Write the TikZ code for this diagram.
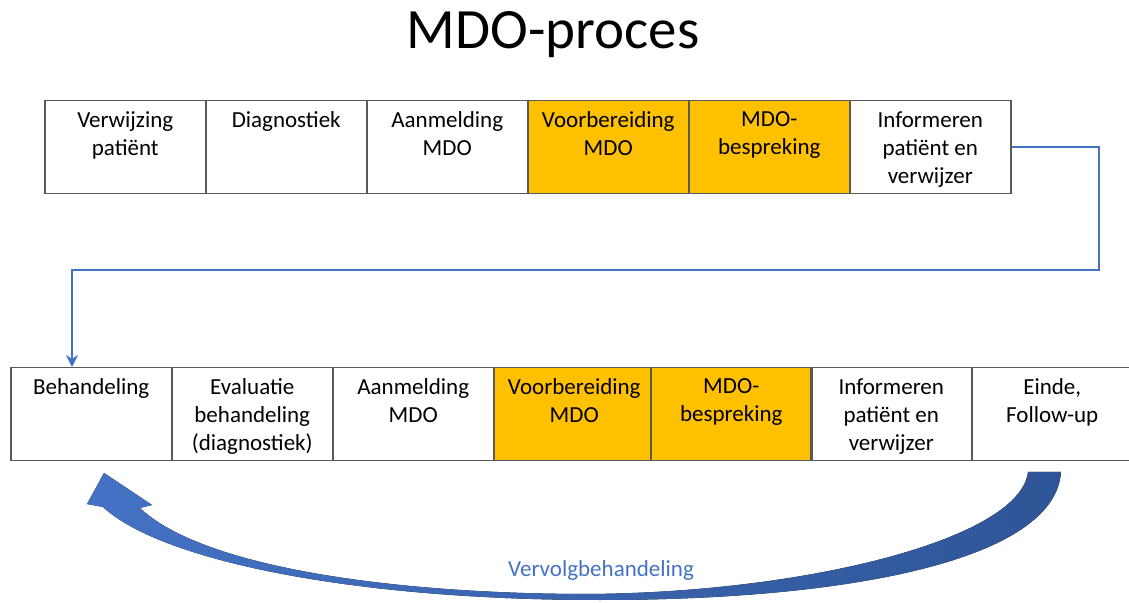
\documentclass[tikz,border=0pt]{standalone}
\usepackage{fontspec}
\setmainfont{Carlito}
\usetikzlibrary{arrows.meta}
\definecolor{mdooranje}{HTML}{FFC000}
\definecolor{randgrijs}{HTML}{595959}
\definecolor{pijlblauw}{HTML}{4472C4}
\definecolor{pijldonker}{HTML}{2F5597}
\newcommand{\staptekst}[1]{\parbox[c][46.5pt][t]{80.5pt}{\vspace*{5.5pt}\centering #1\par}}

\begin{document}
\begin{tikzpicture}[x=0.5pt, y=-0.5pt, >={Stealth[length=6pt,width=6pt,inset=2pt]},
    stap/.style={draw=randgrijs, line width=0.75pt, anchor=north west, inner sep=0pt,
        font=\fontsize{11.5}{14}\selectfont},
    mdo/.style={stap, fill=mdooranje},
    verbinding/.style={->, draw=pijlblauw, line width=1.2pt}]
\useasboundingbox (0,0) rectangle (1129,603);

\node[font=\fontsize{28.5}{34}\selectfont] (titel) at (553,35) {MDO-proces};

% bovenste rij
\foreach \st/\tekst [count=\n] in {stap/{Verwijzing\\patiënt}, stap/Diagnostiek, stap/{Aanmelding\\MDO},
    mdo/{Voorbereiding\\MDO}, mdo/{MDO-\\bespreking}, stap/{Informeren\\patiënt en\\verwijzer}}
{
    \node[\st] (t\n) at ({44+161*(\n-1)},100) {\staptekst{\tekst}};
}

% onderste rij
\foreach \x/\st/\tekst [count=\n] in {10/stap/Behandeling, 171/stap/{Evaluatie\\behandeling\\(diagnostiek)},
    332/stap/{Aanmelding\\MDO}, 493/mdo/{Voorbereiding\\MDO}, 650/mdo/{MDO-\\bespreking},
    810/stap/{Informeren\\patiënt en\\verwijzer}, 971/stap/{Einde,\\Follow-up}}
{
    \node[\st] (b\n) at (\x,367) {\staptekst{\tekst}};
}

\coordinate (hoekr) at (1099,270);
\coordinate (hoekl) at (72,270);
\draw[verbinding] (t6.east) -| (hoekr) -- (hoekl) -- (hoekl |- b1.north);

% gebogen pijl terug
\fill[left color=pijlblauw, right color=pijldonker]
    (1061,472) .. controls (1055,560) and (850,600) .. (600,600)
    .. controls (350,600) and (160,560) .. (103,507)
    -- (87,504) -- (104,473) -- (152,505) -- (140,508)
    .. controls (200,565) and (380,593) .. (580,594)
    .. controls (800,594) and (1020,540) .. (1028,472) -- cycle;
\node[text=pijlblauw, font=\fontsize{11.5}{14}\selectfont] (vervolg) at (601,570) {Vervolgbehandeling};
\end{tikzpicture}
\end{document}
